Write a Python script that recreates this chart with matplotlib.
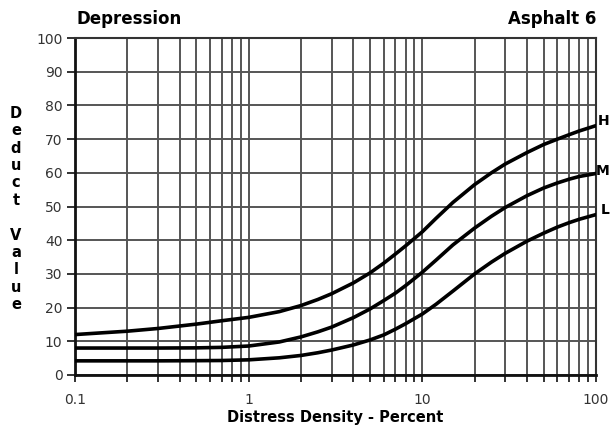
import matplotlib
matplotlib.use("Agg")
import matplotlib.pyplot as plt
from matplotlib.ticker import LogLocator, NullFormatter, FixedLocator, FixedFormatter
from matplotlib.transforms import blended_transform_factory

density = [0.1, 0.2, 0.3, 0.5, 0.7, 1, 1.5, 2, 2.5, 3, 4, 5, 6, 7, 8, 10, 12, 15, 20, 25, 30, 40, 50, 60, 70, 80, 100]
high = [12, 13, 13.8, 15.1, 16.1, 17.1, 18.8, 20.6, 22.4, 24.1, 27.3, 30.3, 33.2, 35.9, 38.3, 42.5, 46.5,
        51.2, 56.5, 60, 62.6, 66, 68.4, 70, 71.3, 72.4, 74]
medium = [8, 8, 8, 8.05, 8.2, 8.6, 9.8, 11.3, 12.8, 14.2, 17, 19.6, 22.1, 24.3, 26.5, 30.5, 34.1,
          38.6, 43.6, 47.1, 49.7, 53.2, 55.5, 57, 58.1, 58.9, 59.8]
low = [4.2, 4.2, 4.2, 4.25, 4.3, 4.5, 5.1, 5.8, 6.6, 7.4, 8.9, 10.4, 11.9, 13.6, 15.2, 18.1, 21,
       24.9, 30, 33.5, 36.1, 39.7, 42.1, 43.9, 45.2, 46.2, 47.6]
series_labels = ["H", "M", "L"]
label_y = [75.5, 60.5, 49]
x_ticks = [0.1, 1, 10, 100]
x_tick_labels = ["0.1", "1", "10", "100"]
y_ticks = list(range(0, 101, 10))

plt.rcParams['font.family'] = ['DejaVu Sans']
fig = plt.figure(figsize=(6.11, 4.30), dpi=100)
ax = fig.add_axes([75/611, 55/430, 521/611, 337/430])

ax.set_xscale('log')
ax.set_xlim(0.1, 100)
ax.set_ylim(0, 100)

gcol = '#555555'
ax.xaxis.set_major_locator(FixedLocator(x_ticks))
ax.xaxis.set_major_formatter(FixedFormatter(x_tick_labels))
ax.xaxis.set_minor_locator(LogLocator(base=10, subs=range(2, 10)))
ax.xaxis.set_minor_formatter(NullFormatter())
ax.set_yticks(y_ticks)
ax.grid(True, which='both', axis='x', color=gcol, lw=1.4)
ax.grid(True, which='major', axis='y', color=gcol, lw=1.4)
ax.set_axisbelow(True)

ax.tick_params(axis='both', which='both', direction='out', color='#222222', width=1.3,
               labelcolor='#333333', labelsize=10)
ax.tick_params(axis='y', length=6, pad=3)
ax.tick_params(axis='x', which='both', length=5, pad=8)

for s in ['left', 'bottom']:
    ax.spines[s].set_linewidth(2.0)
    ax.spines[s].set_color('#111111')
for s in ['top', 'right']:
    ax.spines[s].set_linewidth(1.5)
    ax.spines[s].set_color('#333333')

for ys in (high, medium, low):
    ax.plot(density, ys, color='black', lw=2.6, solid_capstyle='round',
            solid_joinstyle='round', zorder=3)

lab_tr = blended_transform_factory(fig.transFigure, ax.transData)
for lab, yv in zip(series_labels, label_y):
    ax.text(609.5/611, yv, lab, transform=lab_tr, ha='right', va='center',
            fontsize=10, fontweight='bold', clip_on=False)

ax.set_xlabel("Distress Density - Percent", fontsize=10.5, fontweight='bold', labelpad=2)

fig.text(76/611, 1 - 19/430, "Depression", ha='left', va='center', fontsize=12, fontweight='bold')
fig.text(596/611, 1 - 19/430, "Asphalt 6", ha='right', va='center', fontsize=12, fontweight='bold')

fig.text(16/611, 1 - 209/430, "D\ne\nd\nu\nc\nt\n\nV\na\nl\nu\ne", ha='center', va='center',
         fontsize=10.5, fontweight='bold', linespacing=1.2)

fig.savefig("out.png", dpi=100)
